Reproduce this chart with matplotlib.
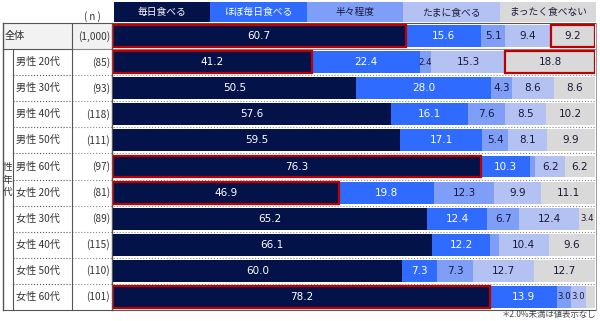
import numpy as np
import matplotlib
matplotlib.use("Agg")
import matplotlib.pyplot as plt
from matplotlib.patches import Rectangle

plt.rcParams['font.family'] = ['Noto Sans CJK JP', 'DejaVu Sans']

# データ
categories = ['全体', '男性 20代', '男性 30代', '男性 40代', '男性 50代', '男性 60代',
              '女性 20代', '女性 30代', '女性 40代', '女性 50代', '女性 60代']
n_labels = ['(1,000)', '(85)', '(93)', '(118)', '(111)', '(97)',
            '(81)', '(89)', '(115)', '(110)', '(101)']
series_names = ['毎日食べる', 'ほぼ毎日食べる', '半々程度', 'たまに食べる', 'まったく食べない']
everyday = [60.7, 41.2, 50.5, 57.6, 59.5, 76.3, 46.9, 65.2, 66.1, 60.0, 78.2]
almost = [15.6, 22.4, 28.0, 16.1, 17.1, 10.3, 19.8, 12.4, 12.2, 7.3, 13.9]
half = [5.1, 2.4, 4.3, 7.6, 5.4, 1.0, 12.3, 6.7, 1.7, 7.3, 3.0]
sometimes = [9.4, 15.3, 8.6, 8.5, 8.1, 6.2, 9.9, 12.4, 10.4, 12.7, 3.0]
never = [9.2, 18.8, 8.6, 10.2, 9.9, 6.2, 11.1, 3.4, 9.6, 12.7, 1.9]
# 赤枠 (行, 系列)
highlights = [(0, 0), (0, 4), (1, 0), (1, 4), (5, 0), (6, 0), (10, 0)]

colors = ['#03134a', '#2f6bff', '#7f9ef7', '#b3c2f2', '#d9d9d9']
txt_colors = ['white', 'white', '#1a1a3a', '#1a1a3a', '#1a1a3a']

W, H = 600, 321
fig = plt.figure(figsize=(W / 100, H / 100), dpi=100)

# 表の枠・線用 (ピクセル座標)
tab = fig.add_axes([0, 0, 1, 1])
tab.set_xlim(0, W)
tab.set_ylim(H, 0)
tab.axis('off')

x0, x1 = 113, 595
ytop, ybot = 23, 310
nrow = len(categories)
rh = (ybot - ytop) / nrow

ax = fig.add_axes([x0 / W, (H - ybot) / H, (x1 - x0) / W, (ybot - ytop) / H])
ax.set_xlim(0, 100)
ax.set_ylim(nrow - 0.5, -0.5)
ax.axis('off')

data = np.array([everyday, almost, half, sometimes, never])
y = np.arange(nrow)
left = np.zeros(nrow)
for k in range(5):
    ax.barh(y, data[k], left=left, height=0.84, color=colors[k], edgecolor='none')
    for i in range(nrow):
        v = data[k][i]
        if v >= 2.0:
            fs = 6.2 if v < 3.5 else 7.5
            ax.text(left[i] + v / 2, i, f'{v:.1f}', ha='center', va='center',
                    fontsize=fs, color=txt_colors[k], family='DejaVu Sans')
    left += data[k]

lefts = np.vstack([np.zeros(nrow), np.cumsum(data, axis=0)[:-1]])
for (i, k) in highlights:
    ax.add_patch(Rectangle((lefts[k][i], i - 0.42), data[k][i], 0.84, fill=False,
                           edgecolor='#c00000', linewidth=1.6, zorder=5))

# 凡例ヘッダー
hw = (x1 - x0) / 5
for k, name in enumerate(series_names):
    tab.add_patch(Rectangle((x0 + 1 + k * hw, 2), hw, 20, color=colors[k], lw=0))
    tab.text(x0 + 1 + k * hw + hw / 2, 12, name, ha='center', va='center',
             fontsize=7, color=txt_colors[k])
tab.text(92, 17, '( n )', ha='center', va='center', fontsize=7, color='#333333')

# 表
tab.add_patch(Rectangle((3, ytop), 110, rh, color='#f2f2f2', lw=0))
for i in range(nrow):
    yc = ytop + rh * (i + 0.5)
    if i == 0:
        tab.text(5, yc, categories[i], ha='left', va='center', fontsize=7.3, color='#333333')
    else:
        tab.text(16, yc, categories[i], ha='left', va='center', fontsize=7.3, color='#333333')
    tab.text(110, yc, n_labels[i], ha='right', va='center', fontsize=7.3, color='#333333')
    if i > 0:
        yl = ytop + rh * i
        xs = 3 if i == 1 else 13
        ls = '-' if i == 1 else ':'
        tab.plot([xs, 72], [yl, yl], color='#555555', lw=0.8, ls=ls)
        tab.plot([72, x1], [yl, yl], color='#888888', lw=0.8, ls=ls)
tab.text(7.5, ytop + rh * 6, '性\n年\n代', ha='center', va='center', fontsize=7,
         color='#333333', linespacing=1.3)
tab.plot([3, x1], [ytop, ytop], color='#555555', lw=0.8)
tab.plot([3, x1], [ybot, ybot], color='#555555', lw=0.8)
tab.plot([3, 3], [ytop, ybot], color='#555555', lw=1.0)
tab.plot([13, 13], [ytop + rh, ybot], color='#555555', lw=0.8)
tab.plot([72, 72], [ytop, ybot], color='#555555', lw=0.8)
tab.plot([112, 112], [ytop, ybot], color='#555555', lw=1.0)
tab.plot([x1 + 1, x1 + 1], [ytop, ybot], color='#888888', lw=0.6)

tab.text(596, 315, '＊2.0%未満は値表示なし', ha='right', va='center', fontsize=6, color='#444444')

fig.savefig('out.png', dpi=100)
